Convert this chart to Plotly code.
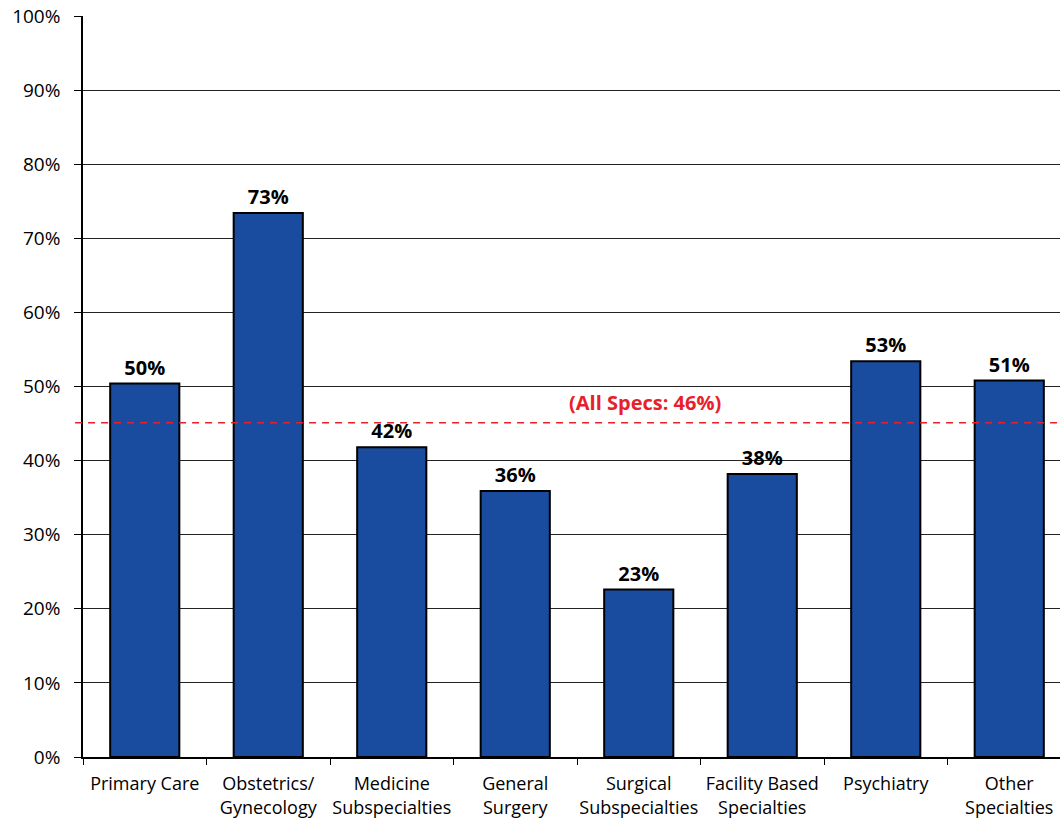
import plotly.graph_objects as go

categories = ["Primary Care", "Obstetrics/<br>Gynecology", "Medicine<br>Subspecialties",
              "General<br>Surgery", "Surgical<br>Subspecialties", "Facility Based<br>Specialties",
              "Psychiatry", "Other<br>Specialties"]
pct_values = [50.4, 73.4, 41.8, 35.9, 22.6, 38.2, 53.4, 50.8]
all_specs = 45.1
all_specs_label = "(All Specs: 46%)"
y_ticks = list(range(0, 101, 10))
y_tick_text = [f"{v}%" for v in y_ticks]

fig = go.Figure()
fig.add_trace(go.Bar(
    x=categories, y=pct_values,
    marker=dict(color="#194B9E", line=dict(color="black", width=2)),
    width=0.56,
    texttemplate="%{y:.0f}%", textposition="outside",
    textfont=dict(family="Open Sans", size=20, color="black", weight="bold"),
    cliponaxis=False,
))

fig.add_shape(type="line", xref="paper", yref="y", x0=-0.008, x1=1, y0=all_specs, y1=all_specs,
              line=dict(color="#E8202A", width=1.5, dash="7px,6px"))
fig.add_annotation(x=4.05, y=47.9, xref="x", yref="y", text=all_specs_label, showarrow=False,
                   font=dict(family="Open Sans", size=20, color="#E8202A", weight="bold"))

# plot area runs a little past the right edge of the window, as in the original
fig.update_layout(
    width=1071, height=821,
    margin=dict(l=83, r=0, t=16, b=64),
    plot_bgcolor="white", paper_bgcolor="white",
    showlegend=False,
    font=dict(family="Open Sans", color="black"),
)
fig.update_yaxes(
    range=[0, 100], tickvals=y_ticks, ticktext=y_tick_text,
    showgrid=True, gridcolor="#222", gridwidth=1,
    showline=True, linecolor="black", linewidth=1.5,
    ticks="outside", ticklen=7, tickcolor="black",
    tickfont=dict(size=19), zeroline=False, ticklabelstandoff=10,
    automargin=False,
)
fig.update_xaxes(
    showline=True, linecolor="black", linewidth=1.5,
    ticks="outside", ticklen=6, tickcolor="black", tickson="boundaries",
    tickfont=dict(size=18), showgrid=False, ticklabelstandoff=10,
    tickangle=0, automargin=False,
)

fig.write_html("out.html", config={"displayModeBar": False},
               post_script="document.body.style.margin='0';document.body.style.overflow='hidden';")
